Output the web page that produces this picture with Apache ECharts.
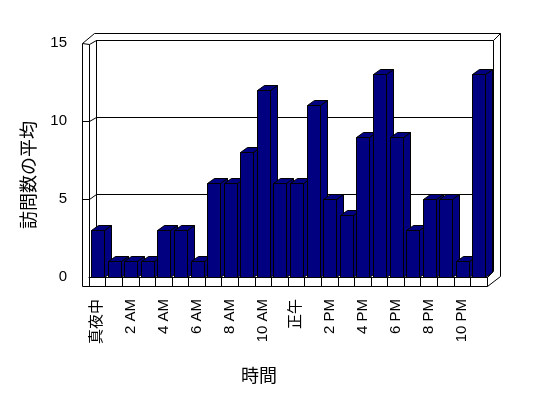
<!DOCTYPE html>
<html>
<head>
<meta charset="utf-8">
<script src="https://cdn.jsdelivr.net/npm/echarts@6/dist/echarts.min.js"></script>
<style>
html,body{margin:0;padding:0;background:#fff}
#main{width:548px;height:398px}
</style>
</head>
<body>
<div id="main"></div>
<script>
// 時間ごとの訪問数の平均
var hours = ['真夜中','1 AM','2 AM','3 AM','4 AM','5 AM','6 AM','7 AM','8 AM','9 AM','10 AM','11 AM',
             '正午','1 PM','2 PM','3 PM','4 PM','5 PM','6 PM','7 PM','8 PM','9 PM','10 PM','11 PM'];
var visits = [3,1,1,1,3,3,1,6,6,8,12,6,6,11,5,4,9,13,9,3,5,5,1,13];
var yTicks = [0,5,10,15];

var latin = '"Liberation Sans", Arial, "Noto Sans CJK JP", sans-serif';
var jp = '"Noto Sans CJK JP", sans-serif';

var myChart = echarts.init(document.getElementById('main'));

// 3Dっぽい棒
function renderBar(params, api){
    var i = api.value(0);
    var base = api.coord([i, 0]);
    var top = api.coord([i, api.value(1)]);
    var slot = api.size([1, 0])[0];
    var x0 = Math.round(base[0] - slot / 2 + 2) + 0.5;
    var x1 = x0 + Math.round(slot * 0.78);
    var y0 = Math.round(base[1]) + 0.5;
    var y1 = Math.round(top[1]) + 0.5;
    var dx = 7, dy = -5;
    var st = {fill:'#000080', stroke:'#000', lineWidth:1};
    return {
        type:'group',
        children:[
            {type:'polygon', shape:{points:[[x1,y1],[x1+dx,y1+dy],[x1+dx,y0+dy],[x1,y0]]}, style:st},
            {type:'polygon', shape:{points:[[x0,y1],[x0+dx,y1+dy],[x1+dx,y1+dy],[x1,y1]]}, style:st},
            {type:'rect', shape:{x:x0, y:y1, width:x1-x0, height:y0-y1}, style:st}
        ]
    };
}

var option = {
    backgroundColor:'#fff',
    animation:false,
    grid:[
        {left:89, right:61, top:43, bottom:121},   // 手前
        {left:96, right:55, top:40, bottom:127}    // 奥の壁
    ],
    xAxis:[
        {
            type:'category', gridIndex:0, data:hours, boundaryGap:true,
            axisLine:{show:true, lineStyle:{color:'#000', width:1}},
            axisTick:{show:true, interval:0, length:9, lineStyle:{color:'#000'}},
            axisLabel:{interval:1, rotate:90, margin:22, color:'#000', fontSize:15, fontFamily:latin},
            splitLine:{show:false}
        },
        {type:'category', gridIndex:1, data:hours, show:false}
    ],
    yAxis:[
        {
            type:'value', gridIndex:0, min:yTicks[0], max:yTicks[yTicks.length-1], interval:5,
            axisLine:{show:false}, axisTick:{show:false}, splitLine:{show:false},
            axisLabel:{margin:22, color:'#000', fontSize:15, fontFamily:latin}
        },
        {
            type:'value', gridIndex:1, min:yTicks[0], max:yTicks[yTicks.length-1], interval:5,
            axisLine:{show:false}, axisTick:{show:false}, axisLabel:{show:false},
            splitLine:{show:true, lineStyle:{color:'#000', width:1}}
        }
    ],
    series:[{
        type:'custom',
        xAxisIndex:0, yAxisIndex:0,
        renderItem:renderBar,
        encode:{x:0, y:1},
        data:visits.map(function(v, i){ return [i, v]; }),
        z:5
    }]
};
myChart.setOption(option);

// 枠（壁と床）
function seg(x1, y1, x2, y2){
    return {type:'line', silent:true, z:1,
        shape:{x1:x1+0.5, y1:y1+0.5, x2:x2+0.5, y2:y2+0.5},
        style:{stroke:'#000', lineWidth:1}};
}
function poly(pts){
    return {type:'polyline', silent:true, z:1,
        shape:{points:pts.map(function(p){ return [p[0]+0.5, p[1]+0.5]; })},
        style:{stroke:'#000', lineWidth:1, fill:null}};
}
var frame = [
    poly([[82,286],[82,43],[94,33],[500,33],[500,276],[487,286],[82,286]]),
    seg(82,43,89,44),
    seg(89,44,89,277),
    seg(89,44,96,40),
    poly([[96,271],[96,40],[493,40],[493,271]]),
    seg(493,40,500,33),
    seg(487,277,487,286),
    seg(487,277,493,271)
];
[5,10].forEach(function(v){
    var y = Math.round(myChart.convertToPixel({gridIndex:0}, [0, v])[1]);
    var yb = Math.round(myChart.convertToPixel({gridIndex:1}, [0, v])[1]);
    frame.push(poly([[82,y],[89,y],[96,yb]]));
});
frame.push({
    type:'text', silent:true, x:28, y:175, rotation:Math.PI/2,
    style:{text:'訪問数の平均', fill:'#000', font:'18px ' + jp, align:'center', verticalAlign:'middle'}
});
frame.push({
    type:'text', silent:true, x:259, y:375,
    style:{text:'時間', fill:'#000', font:'18px ' + jp, align:'center', verticalAlign:'middle'}
});
myChart.setOption({graphic:{elements:frame}});
</script>
</body>
</html>
